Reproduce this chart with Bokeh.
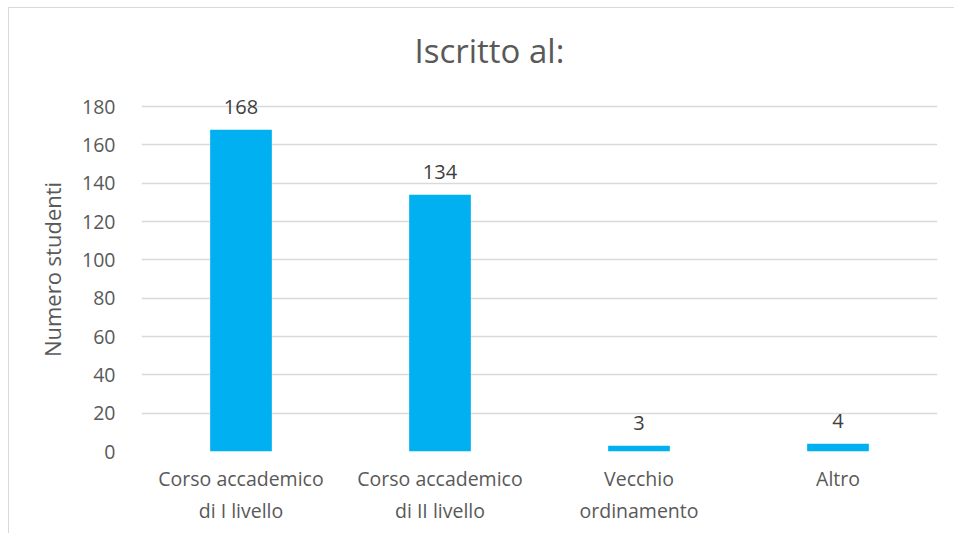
from bokeh.plotting import figure
from bokeh.models import ColumnDataSource, LabelSet, Range1d
from bokeh.core.properties import value
from bokeh.embed import file_html
from bokeh.resources import INLINE

categories = ["Corso accademico\ndi I livello", "Corso accademico\ndi II livello", "Vecchio\nordinamento", "Altro"]
values = [168, 134, 3, 4]
y_ticks = [0, 20, 40, 60, 80, 100, 120, 140, 160, 180]

FONT = "Open Sans"
GREY = "#595959"

src = ColumnDataSource(dict(cat=categories, val=values, lab=[str(v) for v in values]))

# headroom above 180 so that the value labels are not clipped by the frame
p = figure(x_range=categories, y_range=Range1d(0, 190), width=946, height=526,
           output_backend="svg", toolbar_location=None,
           min_border_left=132, min_border_right=18, min_border_top=79, min_border_bottom=83)

p.vbar(x="cat", top="val", width=0.31, source=src, color="#00B0F0", line_color=None)

p.add_layout(LabelSet(x="cat", y="val", text="lab", source=src, text_align="center",
                      text_baseline="bottom", y_offset=16, text_font_size="20px",
                      text_color="#404040", text_font=value(FONT)))

p.title.text = "Iscritto al:"
p.title.align = "left"
p.title.offset = 273
p.title.text_font = FONT
p.title.text_font_size = "33px"
p.title.text_font_style = "normal"
p.title.text_color = GREY
p.title.text_line_height = 1.0
p.title.standoff = 30

p.yaxis.ticker = y_ticks
p.yaxis.axis_label = "Numero studenti"
p.yaxis.axis_label_text_font = FONT
p.yaxis.axis_label_text_font_size = "22px"
p.yaxis.axis_label_text_font_style = "normal"
p.yaxis.axis_label_text_color = GREY
p.yaxis.axis_label_standoff = 12
p.yaxis.major_label_standoff = 20

for ax in (p.xaxis, p.yaxis):
    ax.axis_line_color = None
    ax.major_tick_line_color = None
    ax.minor_tick_line_color = None
    ax.major_label_text_font = FONT
    ax.major_label_text_font_size = "19.5px"
    ax.major_label_text_color = GREY
p.xaxis.major_label_standoff = 7

p.xgrid.grid_line_color = None
p.ygrid.grid_line_color = "#d9d9d9"
p.ygrid.grid_line_width = 1.5
p.outline_line_color = None
p.styles = {"margin-left": "8px", "margin-top": "7px",
            "border-left": "1px solid #d9d9d9", "border-top": "1px solid #d9d9d9"}

open("out.html", "w").write(file_html(p, INLINE))
